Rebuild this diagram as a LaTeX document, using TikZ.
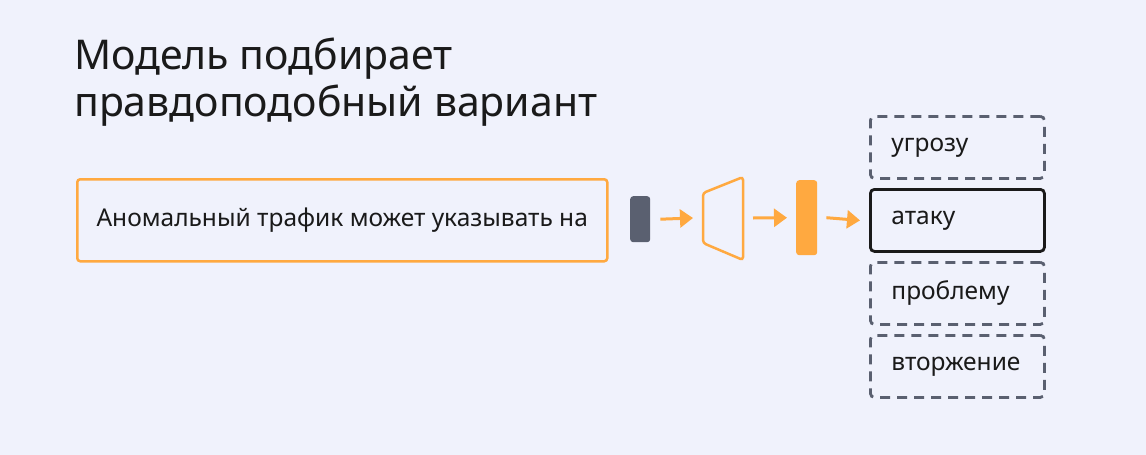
\documentclass[tikz,border=0pt]{standalone}
\usepackage{fontspec}
\setmainfont{Noto Sans}
\usetikzlibrary{arrows.meta}
\definecolor{bg}{HTML}{F0F2FC}
\definecolor{orng}{HTML}{FFA940}
\definecolor{slate}{HTML}{5A6070}
\definecolor{ink}{HTML}{1A1A1A}
\begin{document}
\begin{tikzpicture}[x=1pt,y=-1pt,
  arr/.style={orng,line width=3pt,-{Triangle[length=13pt,width=18pt]}},
  opt/.style={draw=slate,line width=2.8pt,dash pattern=on 10pt off 7pt,rounded corners=4pt,minimum width=174pt,minimum height=62pt,anchor=north west,text=ink,font=\fontsize{24.5}{28}\selectfont,align=left,text width=170pt,inner sep=0pt},
  every node/.style={inner sep=0pt}]
\fill[bg] (0,0) rectangle (1146,455);
\useasboundingbox (0,0) rectangle (1146,455);
\node[anchor=north west,align=left,text=ink,font=\fontsize{41}{47}\selectfont] (title) at (74,38) {Модель подбирает\\правдоподобный вариант};
\node[draw=orng,line width=2.5pt,rounded corners=3pt,minimum width=530pt,minimum height=82pt,anchor=north west,text=ink,font=\fontsize{24.5}{28}\selectfont] (input) at (76,178) {Аномальный трафик может указывать на};
\node[fill=slate,rounded corners=3pt,minimum width=20pt,minimum height=46pt,anchor=north west] (tok) at (630,196) {};
\coordinate (tl) at (703,193);
\coordinate (bl) at (703,243);
\coordinate (tr) at (743,177);
\coordinate (br) at (743,260);
\draw[orng,line width=2.5pt,rounded corners=3pt] (tl) -- (tr) -- (br) -- (bl) -- cycle;
\node[fill=orng,rounded corners=3pt,minimum width=21pt,minimum height=75pt,anchor=north west] (emb) at (796,180) {};
\coordinate (enc) at (703,218);
\coordinate (encr) at (745,218);
\node[opt] (o1) at (869,115) {\hspace*{19pt}угрозу};
\node[opt,dash pattern=,draw=ink] (o2) at (869,188) {\hspace*{19pt}атаку};
\node[opt] (o3) at (869,261) {\hspace*{19pt}проблему};
\node[opt] (o4) at (869,334) {\hspace*{19pt}вторжение};
\draw[arr] (tok.east)+(10,0) -- ([xshift=-10pt]enc);
\draw[arr] ([xshift=8pt]encr) -- ([xshift=-9pt]emb.west);
\draw[arr] ([xshift=9pt]emb.east) -- ([xshift=-9pt]o2.west);
\end{tikzpicture}
\end{document}
